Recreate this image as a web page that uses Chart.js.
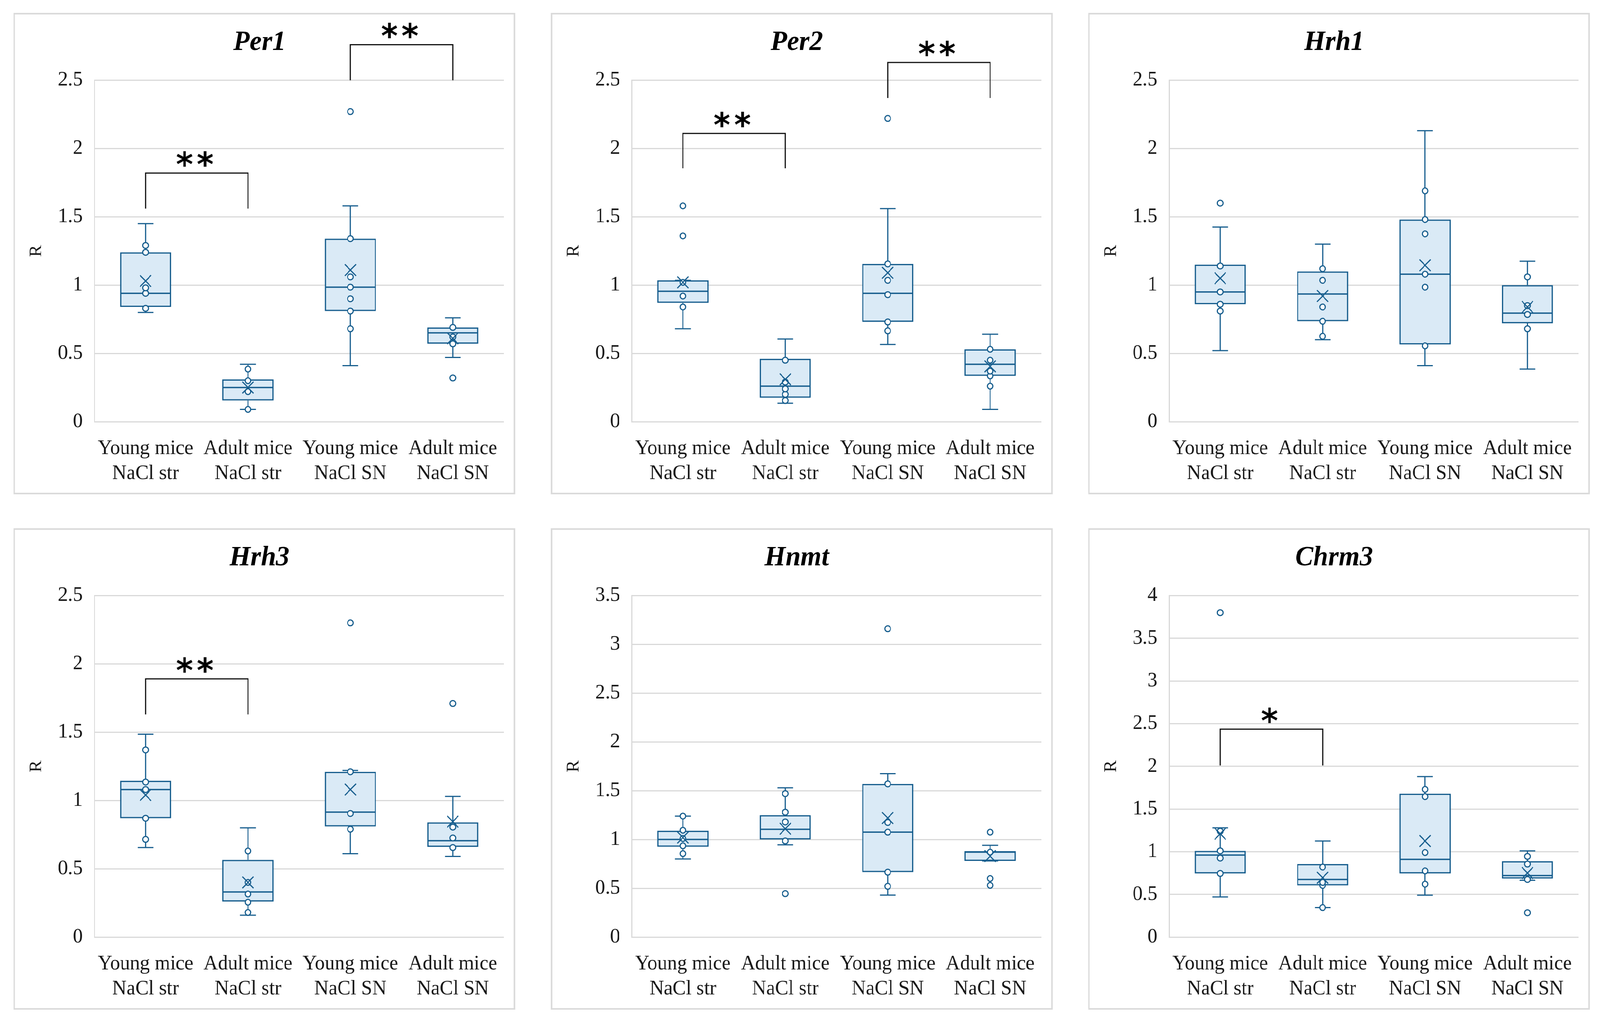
<!DOCTYPE html>
<html>
<head>
<meta charset="utf-8">
<script src="https://cdn.jsdelivr.net/npm/chart.js@4.4.1/dist/chart.umd.min.js"></script>
<style>
    html,body{margin:0;padding:0;background:#fff;overflow:hidden;}
    #stage{position:absolute;left:0;top:0;width:4273px;height:2615px;transform-origin:0 0;}
    .panel{position:absolute;width:1340px;height:1233px;box-sizing:border-box;border:4px solid #dadada;background:#fff;}
    .panel canvas{position:absolute;left:0;top:0;}
</style>
</head>
<body>
<div id="stage">
<div class="panel" style="left:36px;top:33px"><canvas id="per1" width="1332" height="1225"></canvas></div>
<div class="panel" style="left:1471px;top:33px"><canvas id="per2" width="1332" height="1225"></canvas></div>
<div class="panel" style="left:2906px;top:33px"><canvas id="hrh1" width="1332" height="1225"></canvas></div>
<div class="panel" style="left:36px;top:1353px"><canvas id="hrh3" width="1332" height="1225"></canvas></div>
<div class="panel" style="left:1471px;top:1353px"><canvas id="hnmt" width="1332" height="1225"></canvas></div>
<div class="panel" style="left:2906px;top:1353px"><canvas id="chrm3" width="1332" height="1225"></canvas></div>
</div>
<script>
const categories = [["Young mice","NaCl str"],["Adult mice","NaCl str"],["Young mice","NaCl SN"],["Adult mice","NaCl SN"]];

// each box: [min, q1, median, q3, max]
const per1Box = [[0.80,0.84,0.94,1.24,1.45],[0.09,0.155,0.25,0.31,0.42],[0.41,0.81,0.985,1.34,1.58],[0.47,0.57,0.65,0.69,0.76]];
const per1Mean = [1.03,0.25,1.11,0.61];
const per1Points = [[1.29,1.24,0.98,0.94,0.83],[0.385,0.30,0.22,0.09],[2.27,1.34,1.06,0.985,0.90,0.81,0.68],[0.69,0.62,0.57,0.32]];
const per1Marks = [[0,1,1.56,1.82,"**"],[2,3,2.5,2.76,"**"]];

const per2Box = [[0.68,0.87,0.955,1.035,1.035],[0.135,0.175,0.26,0.46,0.605],[0.565,0.73,0.94,1.155,1.56],[0.09,0.335,0.42,0.53,0.64]];
const per2Mean = [1.02,0.31,1.09,0.405];
const per2Points = [[1.58,1.36,1.02,0.92,0.84],[0.45,0.29,0.24,0.20,0.155],[2.22,1.155,1.035,0.93,0.73,0.665],[0.53,0.45,0.37,0.335,0.26]];
const per2Marks = [[0,1,1.855,2.11,"**"],[2,3,2.37,2.63,"**"]];

const hrh1Box = [[0.52,0.86,0.95,1.15,1.425],[0.60,0.735,0.935,1.10,1.30],[0.41,0.565,1.08,1.48,2.13],[0.385,0.72,0.795,1.00,1.175]];
const hrh1Mean = [1.05,0.92,1.145,0.84];
const hrh1Points = [[1.60,1.14,0.95,0.86,0.81],[1.12,1.035,0.84,0.735,0.625],[1.69,1.48,1.375,1.08,0.985,0.555],[1.06,0.85,0.785,0.68]];
const hrh1Marks = [];

const hrh3Box = [[0.655,0.87,1.08,1.145,1.485],[0.16,0.26,0.33,0.565,0.80],[0.61,0.81,0.915,1.21,1.22],[0.59,0.66,0.705,0.84,1.03]];
const hrh3Mean = [1.04,0.40,1.08,0.845];
const hrh3Points = [[1.37,1.135,1.08,0.87,0.715],[0.63,0.40,0.315,0.255,0.18],[2.30,1.21,0.905,0.79],[1.71,0.805,0.725,0.655]];
const hrh3Marks = [[0,1,1.63,1.89,"**"]];

const hnmtBox = [[0.80,0.925,1.00,1.09,1.24],[0.945,1.00,1.105,1.25,1.53],[0.43,0.665,1.075,1.57,1.675],[0.78,0.78,0.87,0.88,0.94]];
const hnmtMean = [1.02,1.11,1.22,0.83];
const hnmtPoints = [[1.24,1.095,1.01,0.935,0.855],[1.47,1.28,1.18,0.985,0.445],[3.16,1.57,1.175,1.075,0.665,0.52],[1.075,0.87,0.60,0.53]];
const hnmtMarks = [];

const chrm3Box = [[0.47,0.745,0.96,1.01,1.28],[0.345,0.605,0.675,0.855,1.125],[0.49,0.745,0.91,1.68,1.88],[0.665,0.685,0.72,0.89,1.01]];
const chrm3Mean = [1.21,0.695,1.125,0.75];
const chrm3Points = [[3.80,1.24,1.01,0.925,0.745],[0.82,0.64,0.605,0.345],[1.73,1.645,0.99,0.775,0.62],[0.945,0.855,0.675,0.285]];
const chrm3Marks = [[0,1,2.01,2.435,"*"]];

const titles = ["Per1","Per2","Hrh1","Hrh3","Hnmt","Chrm3"];
const yMax = [2.5,2.5,2.5,2.5,3.5,4];

const BLUE = "#175e8e";
const FILL = "#daeaf6";
const GRID = "#d9d9d9";
const SERIF = "'Liberation Serif', 'DejaVu Serif', serif";

// fit the 4273x2615 layout into whatever viewport we really get
function fitStage(){
    const sx = window.innerWidth / 4273;
    const sy = window.innerHeight / 2615;
    document.getElementById("stage").style.transform = `scale(${sx},${sy})`;
}

class BoxPanel{
    constructor(canvasId,title,max,box,mean,points,marks){
        this.canvasId = canvasId;
        this.title = title;
        this.max = max;
        this.box = box;
        this.mean = mean;
        this.points = points;
        this.marks = marks;
        this.chart = null;
    }

    // whiskers, caps and median line, drawn right after the boxes
    boxParts(){
        const box = this.box;
        return {
            id:"boxParts",
            afterDatasetDraw(chart,args){
                if(args.index !== 0) return;
                const {ctx} = chart;
                const x = chart.scales.x, y = chart.scales.y;
                const bars = args.meta.data;
                ctx.save();
                ctx.strokeStyle = BLUE;
                ctx.lineWidth = 3;
                box.forEach((b,i)=>{
                    const cx = x.getPixelForValue(i);
                    const half = bars[i].width/2 - 2;
                    const yMin = y.getPixelForValue(b[0]), yQ1 = y.getPixelForValue(b[1]);
                    const yMed = y.getPixelForValue(b[2]);
                    const yQ3 = y.getPixelForValue(b[3]), yTop = y.getPixelForValue(b[4]);
                    ctx.beginPath();
                    ctx.moveTo(cx,yQ3); ctx.lineTo(cx,yTop);
                    ctx.moveTo(cx,yQ1); ctx.lineTo(cx,yMin);
                    ctx.moveTo(cx-21,yTop); ctx.lineTo(cx+21,yTop);
                    ctx.moveTo(cx-21,yMin); ctx.lineTo(cx+21,yMin);
                    ctx.stroke();
                    ctx.beginPath();
                    ctx.lineWidth = 3.5;
                    ctx.moveTo(cx-half,yMed); ctx.lineTo(cx+half,yMed);
                    ctx.stroke();
                    ctx.lineWidth = 3;
                });
                ctx.restore();
            }
        };
    }

    // significance brackets with stars
    brackets(){
        const marks = this.marks;
        return {
            id:"brackets",
            afterDraw(chart){
                const {ctx} = chart;
                const x = chart.scales.x, y = chart.scales.y;
                ctx.save();
                marks.forEach(m=>{
                    const x1 = x.getPixelForValue(m[0]), x2 = x.getPixelForValue(m[1]);
                    const yb = y.getPixelForValue(m[2]), yt = y.getPixelForValue(m[3]);
                    ctx.strokeStyle = "#111";
                    ctx.lineWidth = 3;
                    ctx.beginPath();
                    ctx.moveTo(x1,yb); ctx.lineTo(x1,yt); ctx.lineTo(x2,yt); ctx.lineTo(x2,yb);
                    ctx.stroke();
                    ctx.fillStyle = "#000";
                    ctx.font = "bold 86px 'DejaVu Sans'";
                    ctx.textAlign = "center";
                    ctx.textBaseline = "alphabetic";
                    const mid = (x1+x2)/2 - 5;
                    const n = m[4].length;
                    for(let k=0;k<n;k++){
                        ctx.fillText(m[4][k], mid + (k-(n-1)/2)*55, yt+8);
                    }
                });
                ctx.restore();
            }
        };
    }

    renderChart(){
        const ctx = document.getElementById(this.canvasId).getContext("2d");
        const most = Math.max(...this.points.map(p=>p.length));
        const pointSets = [];
        for(let j=0;j<most;j++){
            pointSets.push({
                type:"line",
                data:this.points.map(p=> p[j] === undefined ? null : p[j]),
                showLine:false,
                pointRadius:7.5,
                pointHoverRadius:7.5,
                pointBorderWidth:3,
                pointBackgroundColor:"#fff",
                pointBorderColor:BLUE,
                order:2
            });
        }

        this.chart = new Chart(ctx,{
            type:"bar",
            data:{
                labels:categories,
                datasets:[{
                    data:this.box.map(b=>[b[1],b[3]]),
                    backgroundColor:FILL,
                    borderColor:BLUE,
                    borderWidth:3.5,
                    borderSkipped:false,
                    barPercentage:0.5,
                    categoryPercentage:1,
                    order:3
                },
                ...pointSets,
                {
                    type:"line",
                    data:this.mean,
                    showLine:false,
                    pointStyle:"crossRot",
                    pointRadius:21,
                    pointHoverRadius:21,
                    pointBorderWidth:3,
                    pointBorderColor:BLUE,
                    order:1
                }]
            },
            options:{
                responsive:false,
                devicePixelRatio:1,
                animation:false,
                events:[],
                layout:{padding:{left:0,right:26,top:0,bottom:0}},
                plugins:{
                    legend:{display:false},
                    tooltip:{enabled:false},
                    title:{
                        display:true,
                        text:this.title,
                        color:"#000",
                        font:{family:SERIF,size:72,style:"italic",weight:"bold",lineHeight:1.2},
                        padding:{top:29,bottom:53}
                    }
                },
                scales:{
                    x:{
                        grid:{display:false},
                        border:{display:false},
                        ticks:{
                            color:"#1a1a1a",
                            padding:30,
                            maxRotation:0,
                            font:{family:SERIF,size:53,lineHeight:1.19}
                        },
                        afterFit:(s)=>{ s.height = 182; }
                    },
                    y:{
                        min:0,
                        max:this.max,
                        grid:{color:GRID,lineWidth:3,drawTicks:false},
                        border:{display:true,color:GRID,width:3},
                        ticks:{
                            stepSize:0.5,
                            color:"#1a1a1a",
                            padding:31,
                            font:{family:SERIF,size:53},
                            callback:(v)=>`${v}`
                        },
                        title:{
                            display:true,
                            text:"R",
                            color:"#1a1a1a",
                            font:{family:SERIF,size:46,lineHeight:1.2},
                            padding:{top:30,bottom:0}
                        },
                        afterFit:(s)=>{ s.width = 212; }
                    }
                }
            },
            plugins:[this.boxParts(),this.brackets()]
        });
    }
}

document.addEventListener("DOMContentLoaded",()=>{
    fitStage();
    new BoxPanel("per1",titles[0],yMax[0],per1Box,per1Mean,per1Points,per1Marks).renderChart();
    new BoxPanel("per2",titles[1],yMax[1],per2Box,per2Mean,per2Points,per2Marks).renderChart();
    new BoxPanel("hrh1",titles[2],yMax[2],hrh1Box,hrh1Mean,hrh1Points,hrh1Marks).renderChart();
    new BoxPanel("hrh3",titles[3],yMax[3],hrh3Box,hrh3Mean,hrh3Points,hrh3Marks).renderChart();
    new BoxPanel("hnmt",titles[4],yMax[4],hnmtBox,hnmtMean,hnmtPoints,hnmtMarks).renderChart();
    new BoxPanel("chrm3",titles[5],yMax[5],chrm3Box,chrm3Mean,chrm3Points,chrm3Marks).renderChart();
});
</script>
</body>
</html>
